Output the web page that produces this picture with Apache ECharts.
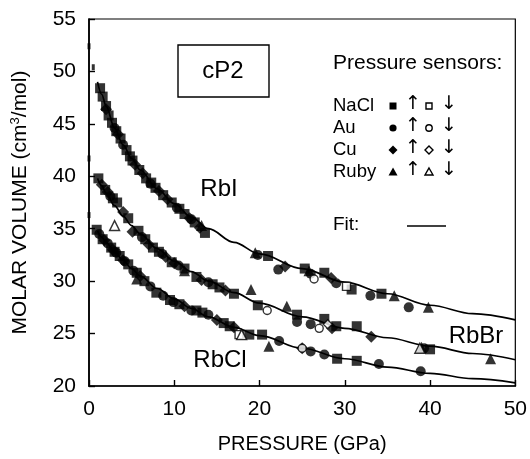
<!DOCTYPE html>
<html><head><meta charset="utf-8">
<script src="https://cdn.jsdelivr.net/npm/echarts@6/dist/echarts.min.js"></script>
<style>html,body{margin:0;padding:0;background:#fff}#c{width:530px;height:459px}</style>
</head><body><div id="c"></div><script>
// ---- data ----
const xTicks = [0, 10, 20, 30, 40, 50];
const yTicks = [20, 25, 30, 35, 40, 45, 50, 55];

// fit curves (pressure GPa, molar volume)
const fitP     = [1, 1.5, 2, 3, 4, 5, 6, 8, 10, 12, 14, 17, 20, 25, 30, 35, 40, 45, 50];
const fitRbI   = [49.0, 47.8, 46.7, 44.6, 43.0, 41.7, 40.6, 38.8, 37.4, 36.1, 35.0, 33.7, 32.6, 31.2, 29.9, 28.8, 27.7, 26.9, 26.3];
const fitRbBr  = [39.8, 39.1, 38.4, 37.2, 36.2, 35.3, 34.5, 33.1, 31.9, 30.9, 30.0, 28.9, 27.9, 26.6, 25.5, 24.6, 23.8, 23.1, 22.5];
const fitRbCl  = [34.8, 34.2, 33.7, 32.8, 32.0, 31.2, 30.5, 29.3, 28.3, 27.4, 26.6, 25.6, 24.8, 23.6, 22.6, 21.8, 21.2, 20.7, 20.3];

// zero-pressure marks on the axis
const zeroMarks = [[0, 52.4], [0.5, 50.4], [0, 41.7], [0, 36.3]];

// NaCl sensor, pressure increasing (filled squares)
const naclUp = [
  [1.3,48.4],[1.6,47.6],[2.0,46.7],[2.3,45.8],[2.7,45.1],[3.2,44.3],[3.7,43.6],[4.4,42.5],[4.8,41.9],[5.1,41.5],[5.9,40.6],[6.7,39.8],[7.3,39.4],[7.8,38.9],[8.7,38.2],[9.7,37.5],[10.6,36.9],[11.2,36.4],[12.4,35.6],[13.6,34.6],[21.0,32.4],[25.3,31.2],[27.6,30.8],[30.8,29.2],[34.3,28.8],
  [1.1,39.8],[1.9,38.7],[2.8,37.9],[3.3,37.5],[4.6,36.0],[5.8,34.8],[6.6,34.0],[7.5,33.2],[8.2,32.8],[9.7,31.8],[11.2,31.2],[12.6,30.4],[14.5,29.7],[15.3,29.4],[17.0,28.8],[19.8,27.7],[24.4,26.8],[27.6,26.4],[29.0,25.7],[31.4,25.7],[40.0,23.5],
  [0.9,34.9],[1.6,34.0],[2.6,33.2],[3.0,32.8],[3.6,32.4],[4.6,31.6],[5.6,30.8],[6.5,30.0],[7.9,28.9],[9.5,28.2],[10.6,27.8],[12.6,27.2],[13.3,27.0],[15.8,26.0],[16.5,25.7],[18.8,24.9],[20.3,24.9],[29.1,22.6],[31.4,22.4]
];
// NaCl, decreasing (open squares)
const naclDown = [[30.2,29.5],[17.6,24.9]];
// Au increasing (filled circles)
const auUp = [
  [3.0,44.6],[4.0,43.0],[7.2,39.3],[10.3,37.0],[12.0,35.9],[19.8,32.5],[22.2,31.1],[26.0,30.7],[29.0,29.8],[33.0,28.6],[37.5,27.5],
  [2.5,38.1],[6.2,34.2],[8.6,32.6],[10.5,31.5],[14.0,29.9],[24.4,26.1],[26.0,25.9],[39.3,23.6],
  [1.2,34.5],[2.2,33.6],[3.2,32.7],[4.2,31.9],[5.2,31.0],[7.2,29.5],[8.7,28.6],[9.9,28.0],[12.0,27.2],[14.0,26.8],[22.3,24.3],[26.0,23.3],[27.6,23.0],[34.0,22.1],[38.9,21.4]
];
// Au decreasing (open circles)
const auDown = [[26.4,30.2],[20.9,27.2],[27.0,25.5],[25.0,23.6]];
// Cu increasing (filled diamonds)
const cuUp = [
  [2.0,46.4],[3.4,44.0],[5.4,41.1],[6.3,40.3],[8.2,38.6],[9.2,37.8],[11.8,36.0],[13.0,35.1],[23.0,31.4],[28.4,30.3],
  [1.5,39.2],[2.2,38.5],[4.0,36.6],[5.1,34.7],[7.0,33.5],[9.0,32.3],[10.0,31.7],[13.2,30.1],[16.0,29.1],[28.5,25.5],[33.1,24.7],
  [1.8,33.9],[2.8,33.0],[4.0,32.0],[6.0,30.5],[11.2,27.6],[15.0,26.3],[17.0,25.6],[25.0,23.6]
];
// Cu decreasing (open diamonds)
const cuDown = [[28.0,25.9]];
// Ruby increasing (filled triangles)
const rubyUp = [
  [13.2,35.3],[19.5,32.7],[25.8,31.0],[35.8,28.6],[39.8,27.5],
  [11.2,31.0],[19.0,29.2],[23.2,27.6],[39.0,23.7],[47.1,22.6],
  [5.6,30.2],[21.1,23.8]
];
// Ruby decreasing (open triangles)
const rubyDown = [[3.0,35.3],[17.9,24.9],[38.8,23.6]];

const legendRows = ['NaCl', 'Au', 'Cu', 'Ruby'];
const compoundLabels = ['RbI', 'RbBr', 'RbCl'];

// ---- chart ----
const FONT = "'Liberation Sans', Arial, Helvetica, sans-serif";
const chart = echarts.init(document.getElementById('c'), null, {renderer: 'canvas'});

function fitSeries(vals) {
  return {type: 'line', data: fitP.map((p, i) => [p, vals[i]]), smooth: 0.35, smoothMonotone: 'x',
    showSymbol: false, symbol: 'none', lineStyle: {color: '#000', width: 1.7}, z: 2, silent: true};
}
function scatter(data, symbol, size, filled) {
  return {type: 'scatter', data: data, symbol: symbol, symbolSize: size, z: filled ? 4 : 5,
    itemStyle: filled ? {color: '#000'} : {color: '#fff', borderColor: '#000', borderWidth: 1.4}};
}

const series = [
  fitSeries(fitRbI), fitSeries(fitRbBr), fitSeries(fitRbCl),
  {type: 'scatter', data: zeroMarks, symbol: 'rect', symbolSize: [3, 6], itemStyle: {color: '#000'}, z: 3},
  scatter(naclUp, 'rect', 10, true),
  scatter(auUp, 'circle', 10, true),
  scatter(cuUp, 'diamond', 12, true),
  scatter(rubyUp, 'triangle', 11, true),
  scatter(naclDown, 'rect', 8, false),
  scatter(auDown, 'circle', 8, false),
  scatter(cuDown, 'diamond', 9, false),
  scatter(rubyDown, 'triangle', 10, false)
];

// legend graphics
const rowY = [106, 128, 150, 172];
const legendG = [];
legendG.push({type: 'text', left: 333, top: 65 - 12, style: {text: 'Pressure sensors:', font: '21px ' + FONT, fill: '#000'}});
const symX = 393, upX = 410, openX = 429, downX = 446;
legendRows.forEach((name, i) => {
  const y = rowY[i];
  legendG.push({type: 'text', left: 333, top: y - 10, style: {text: name, font: '18.5px ' + FONT, fill: '#000'}});
  legendG.push({type: 'text', left: upX - 5, top: y - 11, style: {text: '\u2191', font: '19px DejaVu Sans', fill: '#000'}});
  legendG.push({type: 'text', left: downX - 5, top: y - 11, style: {text: '\u2193', font: '19px DejaVu Sans', fill: '#000'}});
  const filled = {fill: '#000'};
  const open = {fill: '#fff', stroke: '#000', lineWidth: 1.4};
  if (i === 0) {
    legendG.push({type: 'rect', shape: {x: symX - 3.5, y: y - 3.5, width: 7, height: 7}, style: filled});
    legendG.push({type: 'rect', shape: {x: openX - 3, y: y - 3, width: 6, height: 6}, style: open});
  } else if (i === 1) {
    legendG.push({type: 'circle', shape: {cx: symX, cy: y, r: 3.6}, style: filled});
    legendG.push({type: 'circle', shape: {cx: openX, cy: y, r: 3.2}, style: open});
  } else if (i === 2) {
    legendG.push({type: 'polygon', shape: {points: [[symX, y - 4.5], [symX + 4.5, y], [symX, y + 4.5], [symX - 4.5, y]]}, style: filled});
    legendG.push({type: 'polygon', shape: {points: [[openX, y - 4], [openX + 4, y], [openX, y + 4], [openX - 4, y]]}, style: open});
  } else {
    legendG.push({type: 'polygon', shape: {points: [[symX, y - 4.5], [symX + 4.5, y + 3.5], [symX - 4.5, y + 3.5]]}, style: filled});
    legendG.push({type: 'polygon', shape: {points: [[openX, y - 4], [openX + 4, y + 3], [openX - 4, y + 3]]}, style: open});
  }
});
legendG.push({type: 'text', left: 333, top: 226 - 11, style: {text: 'Fit:', font: '19px ' + FONT, fill: '#000'}});
legendG.push({type: 'line', shape: {x1: 407, y1: 226, x2: 446, y2: 226}, style: {stroke: '#000', lineWidth: 1.7}});
// cP2 box
legendG.push({type: 'rect', shape: {x: 178, y: 45, width: 91, height: 52}, style: {fill: 'none', stroke: '#000', lineWidth: 1.4}});
legendG.push({type: 'text', x: 223, y: 71, style: {text: 'cP2', font: '24px ' + FONT, fill: '#000', textAlign: 'center', textVerticalAlign: 'middle'}});
// compound labels
const labelPos = [[219, 189], [476, 336], [220, 360]];
compoundLabels.forEach((t, i) => {
  legendG.push({type: 'text', x: labelPos[i][0], y: labelPos[i][1], style: {text: t, font: '24px ' + FONT, fill: '#000', textAlign: 'center', textVerticalAlign: 'middle'}});
});

chart.setOption({
  animation: false,
  backgroundColor: '#fff',
  grid: {left: 89, right: 13, top: 19, bottom: 69, show: true, borderColor: '#000', borderWidth: 1.2, backgroundColor: 'transparent'},
  xAxis: {
    type: 'value', min: xTicks[0], max: xTicks[xTicks.length - 1], interval: 10,
    name: 'PRESSURE (GPa)', nameLocation: 'middle', nameGap: 48,
    nameTextStyle: {fontSize: 20, fontFamily: FONT, color: '#000'},
    axisLine: {lineStyle: {color: '#000', width: 1.7}},
    axisTick: {inside: true, length: 6, lineStyle: {color: '#000', width: 1.4}},
    axisLabel: {fontSize: 21, fontFamily: FONT, color: '#000', margin: 13},
    splitLine: {show: false}
  },
  yAxis: {
    type: 'value', min: yTicks[0], max: yTicks[yTicks.length - 1], interval: 5,
    name: 'MOLAR VOLUME (cm{sup|3}/mol)', nameLocation: 'middle', nameGap: 58, nameRotate: 90,
    nameTextStyle: {fontSize: 21, fontFamily: FONT, color: '#000', rich: {sup: {fontSize: 13, fontFamily: FONT, color: '#000', verticalAlign: 'top', padding: [0, 0, 9, 0]}}},
    axisLine: {lineStyle: {color: '#000', width: 1.7}},
    axisTick: {inside: true, length: 6, lineStyle: {color: '#000', width: 1.4}},
    axisLabel: {fontSize: 21, fontFamily: FONT, color: '#000', margin: 13},
    splitLine: {show: false}
  },
  graphic: legendG,
  series: series
});
</script></body></html>
